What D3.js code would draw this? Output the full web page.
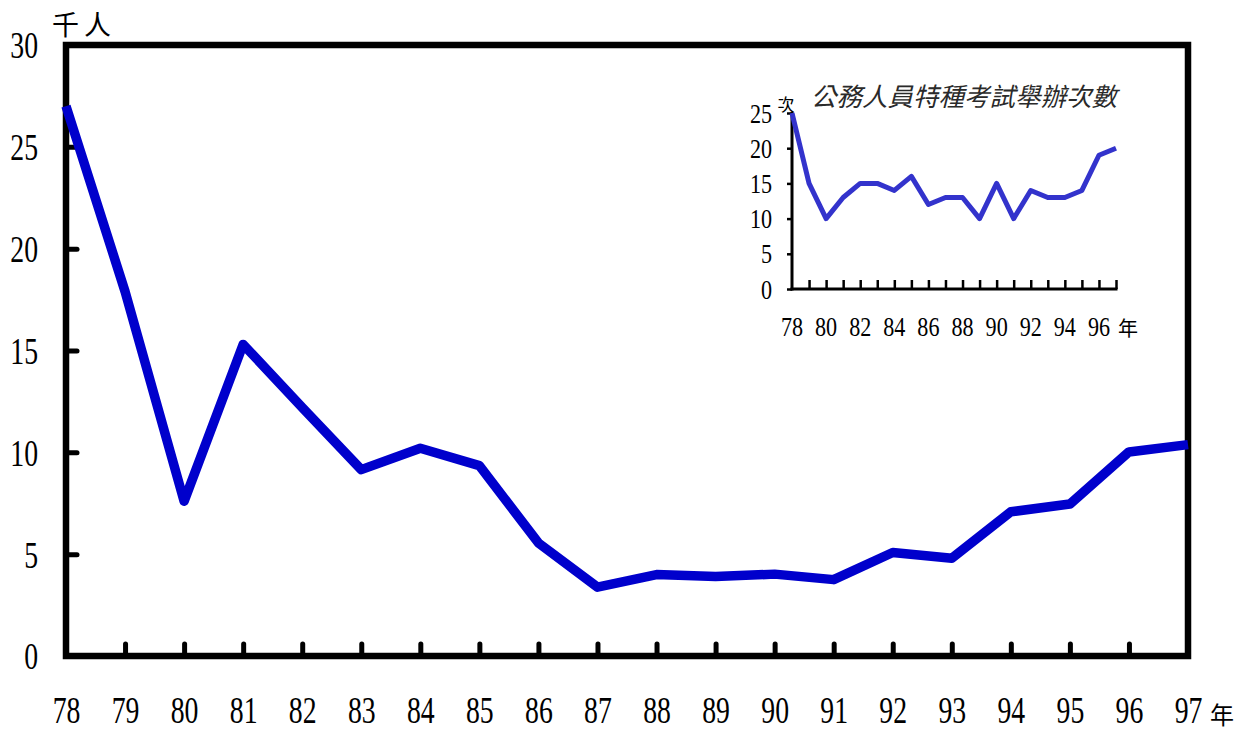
<!DOCTYPE html>
<html>
<head>
<meta charset="utf-8">
<script src="https://cdn.jsdelivr.net/npm/d3@7"></script>
<style>
  html, body { margin: 0; padding: 0; background: #fff; }
  svg { display: block; }
  .dig { font-family: "Liberation Serif", "DejaVu Serif", serif; font-weight: normal; }
  .cjk { font-family: "Noto Sans CJK TC", "Noto Sans CJK SC", sans-serif; }
</style>
</head>
<body>
<script>
// ---- data ----
const years = [78, 79, 80, 81, 82, 83, 84, 85, 86, 87, 88, 89, 90, 91, 92, 93, 94, 95, 96, 97];
const persons = [27.0, 17.9, 7.6, 15.3, 12.2, 9.15, 10.2, 9.35, 5.55, 3.38, 4.0, 3.9, 4.02, 3.75, 5.08, 4.8, 7.08, 7.46, 10.02, 10.38];
const examCounts = [25, 15, 10, 13, 15, 15, 14, 16, 12, 13, 13, 10, 15, 10, 14, 13, 13, 14, 19, 20];
const mainYTicks = [0, 5, 10, 15, 20, 25, 30];
const insetYTicks = [0, 5, 10, 15, 20, 25];
const insetXLabels = [78, 80, 82, 84, 86, 88, 90, 92, 94, 96];
const mainUnit = "千人";
const yearUnit = "年";
const insetTitle = "公務人員特種考試舉辦次數";
const insetUnit = "次";

const W = 1247, H = 731;
const svg = d3.select("body").append("svg").attr("width", W).attr("height", H);

// ---- main chart ----
const x = d3.scaleLinear().domain([78, 97]).range([66, 1188]);
const y = d3.scaleLinear().domain([0, 30]).range([656, 45]);
const sxMain = 0.73;

// y axis (ticks inward)
const yAx = svg.append("g").attr("transform", `translate(${x(78)},0)`)
  .call(d3.axisLeft(y).tickValues(mainYTicks).tickSizeInner(-12).tickSizeOuter(0).tickPadding(28).tickFormat(d3.format("d")));
yAx.attr("font-family", null).attr("font-size", null);
yAx.select(".domain").remove();
yAx.selectAll(".tick line").attr("stroke", "#000").attr("stroke-width", 5).attr("stroke-linecap", "round")
  .attr("x1", 0).attr("x2", 11);
yAx.selectAll(".tick text").attr("class", "dig")
  .style("font-size", "38px").attr("fill", "#000")
  .attr("x", -28 / sxMain).attr("dy", "0.34em")
  .attr("transform", `scale(${sxMain},1)`);

// x axis (ticks upward)
const xAx = svg.append("g").attr("transform", `translate(0,${y(0)})`)
  .call(d3.axisBottom(x).tickValues(years).tickSizeInner(-13).tickSizeOuter(0).tickFormat(d3.format("d")));
xAx.attr("font-family", null).attr("font-size", null);
xAx.select(".domain").remove();
xAx.selectAll(".tick line").attr("stroke", "#000").attr("stroke-width", 5).attr("stroke-linecap", "round")
  .attr("y1", 0).attr("y2", -12);
xAx.selectAll(".tick text").attr("class", "dig")
  .style("font-size", "38px").attr("fill", "#000")
  .attr("y", 54).attr("dy", "0.34em")
  .attr("transform", `scale(${sxMain},1)`);

// frame
svg.append("rect")
  .attr("x", x(78)).attr("y", y(30))
  .attr("width", x(97) - x(78)).attr("height", y(0) - y(30))
  .attr("fill", "none").attr("stroke", "#000").attr("stroke-width", 6.5);

// main line
svg.append("path")
  .datum(years.map((yr, i) => [yr, persons[i]]))
  .attr("fill", "none").attr("stroke", "#0000CC").attr("stroke-width", 9.5)
  .attr("stroke-linejoin", "round")
  .attr("d", d3.line().x(d => x(d[0])).y(d => y(d[1])));

// unit labels
svg.append("text").attr("class", "cjk").attr("x", 84).attr("y", 23).attr("text-anchor", "middle").attr("dominant-baseline", "central")
  .style("font-size", "27px").attr("letter-spacing", 5).attr("fill", "#000").text(mainUnit);
svg.append("text").attr("class", "cjk").attr("x", 1222).attr("y", 713).attr("text-anchor", "middle").attr("dominant-baseline", "central")
  .style("font-size", "24px").attr("fill", "#000").text(yearUnit);

// ---- inset chart ----
const xi = d3.scaleLinear().domain([78, 97]).range([792, 1116]);
const yi = d3.scaleLinear().domain([0, 25]).range([289, 113]);
const sxIn = 0.82;

const inset = svg.append("g");

const yiAx = inset.append("g").attr("transform", `translate(${xi(78)},0)`)
  .call(d3.axisLeft(yi).tickValues(insetYTicks).tickSizeInner(5).tickSizeOuter(0).tickPadding(20).tickFormat(d3.format("d")));
yiAx.attr("font-family", null).attr("font-size", null);
yiAx.select(".domain").remove();
yiAx.selectAll(".tick line").attr("stroke", "#000").attr("stroke-width", 2.5);
yiAx.selectAll(".tick text").attr("class", "dig")
  .style("font-size", "27px").attr("fill", "#000")
  .attr("x", -20 / sxIn).attr("dy", "0.34em")
  .attr("transform", `scale(${sxIn},1)`);

const xiAx = inset.append("g").attr("transform", `translate(0,${yi(0)})`)
  .call(d3.axisBottom(xi).tickValues(years.slice(1)).tickSizeInner(-9).tickSizeOuter(0).tickFormat(""));
xiAx.select(".domain").remove();
xiAx.selectAll(".tick line").attr("stroke", "#000").attr("stroke-width", 2.5);

// inset x labels
inset.selectAll("g.xl").data(insetXLabels).join("g").attr("class", "xl")
  .attr("transform", d => `translate(${xi(d)},${yi(0) + 38})`)
  .append("text").attr("class", "dig").attr("text-anchor", "middle").attr("dy", "0.34em")
  .attr("transform", `scale(${sxIn},1)`)
  .style("font-size", "27px").attr("fill", "#000").text(d => d);

// inset axis lines
inset.append("line").attr("x1", xi(78)).attr("x2", xi(78)).attr("y1", yi(25) - 1).attr("y2", yi(0) + 1.5)
  .attr("stroke", "#000").attr("stroke-width", 3);
inset.append("line").attr("x1", xi(78) - 1.5).attr("x2", xi(97) + 1.5).attr("y1", yi(0)).attr("y2", yi(0))
  .attr("stroke", "#000").attr("stroke-width", 3);

// inset line
inset.append("path")
  .datum(years.map((yr, i) => [yr, examCounts[i]]))
  .attr("fill", "none").attr("stroke", "#3333CC").attr("stroke-width", 5)
  .attr("stroke-linejoin", "round")
  .attr("d", d3.line().x(d => xi(d[0])).y(d => yi(d[1])));

// inset texts
inset.append("text").attr("class", "cjk").attr("x", 964).attr("y", 94).attr("text-anchor", "middle").attr("dominant-baseline", "central")
  .style("font-size", "25.5px").attr("font-style", "italic").attr("fill", "#2a2a2a")
  .text(insetTitle);
inset.append("text").attr("class", "cjk").attr("x", 786).attr("y", 103).attr("text-anchor", "middle").attr("dominant-baseline", "central")
  .style("font-size", "17px").attr("fill", "#000").text(insetUnit);
inset.append("text").attr("class", "cjk").attr("x", xi(97) + 12).attr("y", yi(0) + 38).attr("text-anchor", "middle").attr("dominant-baseline", "central")
  .style("font-size", "20px").attr("fill", "#000").text(yearUnit);
</script>
</body>
</html>
